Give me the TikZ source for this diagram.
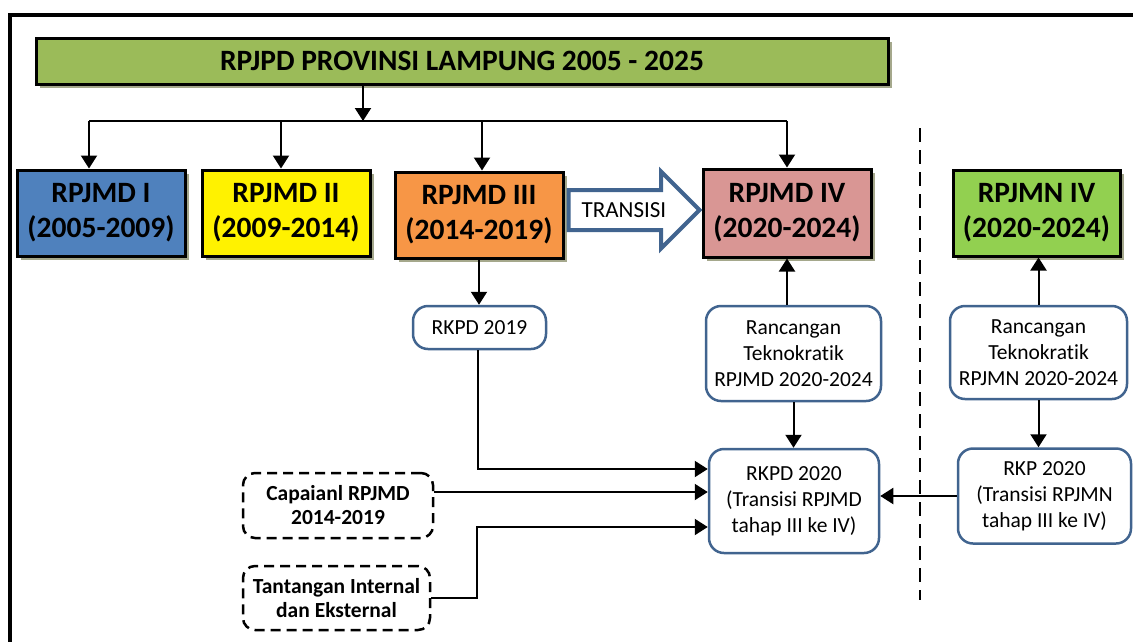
\documentclass[tikz,border=0pt]{standalone}
\usepackage{fontspec}
\setmainfont{Carlito}[Ligatures=CommonOff]
\usetikzlibrary{arrows.meta,calc,shadows,shapes.arrows}
\definecolor{plangreen}{HTML}{9BBB59}
\definecolor{planblue}{HTML}{4F81BD}
\definecolor{planorange}{HTML}{F79646}
\definecolor{planpink}{HTML}{D99694}
\definecolor{planlime}{HTML}{92D050}
\definecolor{planshadow}{HTML}{A5A88C}
\definecolor{planedge}{HTML}{41648F}
\begin{document}
\begin{tikzpicture}[x=1pt,y=-1pt,>={Triangle[length=13pt,width=16pt]},
    period/.style={draw=black,line width=3pt,inner sep=0pt,align=center,
        font=\fontsize{29.5}{35}\selectfont\bfseries,
        drop shadow={shadow xshift=4pt,shadow yshift=-4pt,fill=planshadow,opacity=1}},
    plan/.style={draw=planedge,line width=2.5pt,rounded corners=15pt,fill=white,
        inner sep=0pt,align=center,font=\fontsize{21.5}{26}\selectfont},
    input/.style={draw=black,line width=2.5pt,dashed,dash pattern=on 10pt off 6pt,
        rounded corners=12pt,inner sep=0pt,align=center,
        font=\fontsize{21.5}{24}\selectfont\bfseries},
    link/.style={line width=2pt}]
    \path[use as bounding box,clip] (0,0) rectangle (1133,641);
    \draw[line width=4pt] (9.5,680) |- (1180,14.5);
    % top level plan
    \node[period,fill=plangreen,minimum width=852pt,minimum height=46pt,
        font=\fontsize{29.5}{33}\selectfont\bfseries] (rpjpd) at (462,61) {RPJPD PROVINSI LAMPUNG 2005 - 2025};
    \node[period,fill=planblue,minimum width=168pt,minimum height=86pt] (rpjmdA) at (101,213) {RPJMD I\\(2005-2009)};
    \node[period,fill=yellow,minimum width=168pt,minimum height=86pt] (rpjmdB) at (286,213) {RPJMD II\\(2009-2014)};
    \node[period,fill=planorange,minimum width=168pt,minimum height=86pt] (rpjmdC) at (479,215) {RPJMD III\\(2014-2019)};
    \node[period,fill=planpink,minimum width=168pt,minimum height=88pt] (rpjmdD) at (787,213) {RPJMD IV\\(2020-2024)};
    \node[period,fill=planlime,minimum width=167pt,minimum height=86pt] (rpjmn) at (1036.5,213) {RPJMN IV\\(2020-2024)};
    \node[single arrow,draw=planedge,line width=4pt,anchor=tail,minimum height=131pt,
        minimum width=73pt,single arrow head extend=18.5pt,inner xsep=6pt,inner ysep=10.5pt,
        text height=15pt,text depth=0pt,font=\fontsize{23}{27}\selectfont] (transisi) at ([xshift=2pt,yshift=5pt]rpjmdC.east) {TRANSISI};
    % working documents
    \node[plan,minimum width=133pt,minimum height=43pt] (rkpdA) at (479.5,327.5) {RKPD 2019};
    \node[plan,minimum width=175pt,minimum height=95pt] (teknoD) at (793.5,353.5) {Rancangan\\Teknokratik\\RPJMD 2020-2024};
    \node[plan,minimum width=170pt,minimum height=104pt] (rkpdB) at (794,501) {RKPD 2020\\(Transisi RPJMD\\tahap III ke IV)};
    \node[plan,minimum width=177pt,minimum height=93pt] (teknoN) at (1038.5,352.5) {Rancangan\\Teknokratik\\RPJMN 2020-2024};
    \node[plan,minimum width=173pt,minimum height=95pt] (rkp) at (1044.5,496) {RKP 2020\\(Transisi RPJMN\\tahap III ke IV)};
    \node[input,minimum width=190pt,minimum height=65pt] (capaian) at (338,505.5) {Capaianl RPJMD\\2014-2019};
    \node[input,minimum width=187pt,minimum height=64pt] (tantangan) at (336.5,598) {Tantangan Internal\\dan Eksternal};
    \coordinate (split) at (363,121);
    \draw[link,->] (rpjpd.south -| split) -- (split);
    \draw[link] ([xshift=-12pt]rpjmdA.north |- split) -- (rpjmdD.north |- split);
    \draw[link,->] ([xshift=-12pt]rpjmdA.north |- split) -- ([xshift=-12pt]rpjmdA.north);
    \draw[link,->] ([xshift=-5pt]rpjmdB.north |- split) -- ([xshift=-5pt]rpjmdB.north);
    \draw[link,->] ([xshift=3pt]rpjmdC.north |- split) -- ([xshift=3pt]rpjmdC.north);
    \draw[link,->] (rpjmdD.north |- split) -- (rpjmdD.north);
    \draw[link,->] (rpjmdC.south) -- (rpjmdC.south |- rkpdA.north);
    \draw[link,->] (teknoD.north -| rpjmdD.south) -- (rpjmdD.south);
    \draw[link,->] (teknoD.south) -- (teknoD.south |- rkpdB.north);
    \draw[link,->] (teknoN.north) -- (teknoN.north |- rpjmn.south);
    \draw[link,->] (teknoN.south) -- (teknoN.south |- rkp.north);
    \draw[link,->] (rkp.west) -- (rkp.west -| rkpdB.east);
    \draw[link,->] ([xshift=-2pt]rkpdA.south) |- ($(rkpdB.west)+(0,-32)$);
    \draw[link,->] ($(capaian.east)+(0,-13.5)$) -- ($(rkpdB.west)+(0,-9)$);
    \draw[link,->] (tantangan.east) -| ($(rkpdB.west -| rkpdA.south)+(-3,26)$) -- ($(rkpdB.west)+(0,26)$);
    \draw[line width=2pt,dash pattern=on 14pt off 8pt] (920,128) -- (920,600);
\end{tikzpicture}
\end{document}
